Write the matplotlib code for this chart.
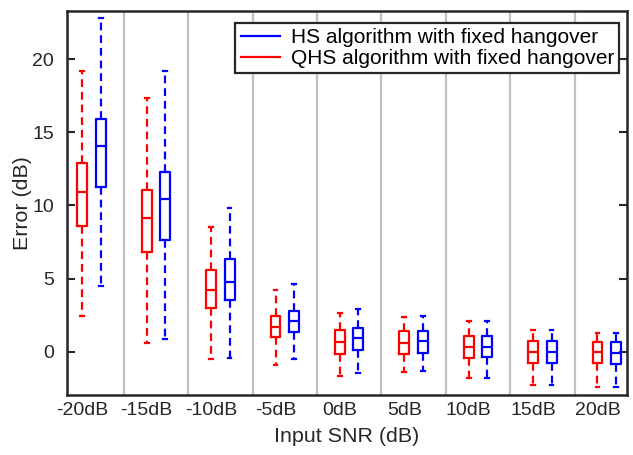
import numpy as np
import matplotlib
matplotlib.use("Agg")
import matplotlib.pyplot as plt
from matplotlib.lines import Line2D

plt.rcParams['font.family'] = ['Liberation Sans', 'DejaVu Sans']

snr_labels = ["-20dB", "-15dB", "-10dB", "-5dB", "0dB", "5dB", "10dB", "15dB", "20dB"]

# QHS algorithm (red)
qhs_whislo = [2.43, 0.61, -0.52, -0.91, -1.64, -1.36, -1.82, -2.27, -2.43]
qhs_q1 = [8.60, 6.80, 3.02, 1.02, -0.16, -0.16, -0.41, -0.75, -0.79]
qhs_med = [10.95, 9.11, 4.20, 1.70, 0.68, 0.61, 0.30, 0.00, -0.04]
qhs_q3 = [12.89, 11.09, 5.62, 2.43, 1.48, 1.41, 1.04, 0.75, 0.64]
qhs_whishi = [19.17, 17.34, 8.54, 4.20, 2.62, 2.39, 2.09, 1.48, 1.30]

# HS algorithm (blue)
hs_whislo = [4.48, 0.87, -0.41, -0.52, -1.43, -1.30, -1.77, -2.27, -2.43]
hs_q1 = [11.27, 7.66, 3.57, 1.36, 0.12, -0.07, -0.38, -0.75, -0.86]
hs_med = [14.09, 10.45, 4.77, 2.09, 0.91, 0.75, 0.34, 0.00, -0.11]
hs_q3 = [15.90, 12.27, 6.37, 2.77, 1.60, 1.41, 1.04, 0.75, 0.64]
hs_whishi = [22.85, 19.20, 9.84, 4.62, 2.89, 2.43, 2.09, 1.48, 1.30]


def make_stats(lo, q1, med, q3, hi):
    stats = []
    for i in range(len(med)):
        stats.append(dict(whislo=lo[i], q1=q1[i], med=med[i], q3=q3[i],
                          whishi=hi[i], fliers=[]))
    return stats


fig = plt.figure(figsize=(6.33, 4.55), dpi=100)
ax = fig.add_axes([0.1052, 0.1319, 0.8853, 0.8439])

n = len(snr_labels)
pos_red = np.arange(n)
pos_blue = pos_red + 0.286

for i in range(n - 1):
    ax.axvline(i + 0.643, color='#c0c0c0', lw=1.6, zorder=0)


def draw(stats, positions, color):
    lw = 1.6
    ax.bxp(stats, positions=positions, widths=0.155, capwidths=0.06,
           showfliers=False, manage_ticks=False,
           boxprops=dict(color=color, lw=lw),
           whiskerprops=dict(color=color, lw=lw, linestyle=(0, (3.5, 2.2))),
           capprops=dict(color=color, lw=lw),
           medianprops=dict(color=color, lw=lw))


draw(make_stats(qhs_whislo, qhs_q1, qhs_med, qhs_q3, qhs_whishi), pos_red, 'red')
draw(make_stats(hs_whislo, hs_q1, hs_med, hs_q3, hs_whishi), pos_blue, 'blue')

ax.set_xlim(-0.244, 8.458)
ax.set_ylim(-2.96, 23.3)
ax.set_xticks(pos_red)
ax.set_xticklabels(snr_labels, fontsize=14)
ax.set_yticks([0, 5, 10, 15, 20])
ax.tick_params(axis='y', direction='in', right=True, length=6, width=1.5,
               labelsize=14, pad=9, colors='#262626', labelcolor='#262626')
ax.tick_params(axis='x', length=0, pad=5, labelcolor='#262626')
for s in ax.spines.values():
    s.set_linewidth(1.8)
    s.set_color('#262626')

ax.set_xlabel("Input SNR (dB)", fontsize=15.4, color='#262626', labelpad=6)
ax.set_ylabel("Error (dB)", fontsize=15.4, color='#262626', labelpad=0)

handles = [Line2D([], [], color='blue', lw=1.6),
           Line2D([], [], color='red', lw=1.6)]
leg = ax.legend(handles, ["HS algorithm with fixed hangover",
                          "QHS algorithm with fixed hangover"],
                loc='upper right', bbox_to_anchor=(0.986, 0.969),
                fontsize=15, frameon=True, fancybox=False,
                handlelength=1.9, handletextpad=0.5, labelspacing=0.1,
                borderpad=0.25, borderaxespad=0)
leg.get_frame().set_edgecolor('#262626')
leg.get_frame().set_linewidth(1.6)
leg.get_frame().set_alpha(1)

fig.savefig("out.png", dpi=100)
